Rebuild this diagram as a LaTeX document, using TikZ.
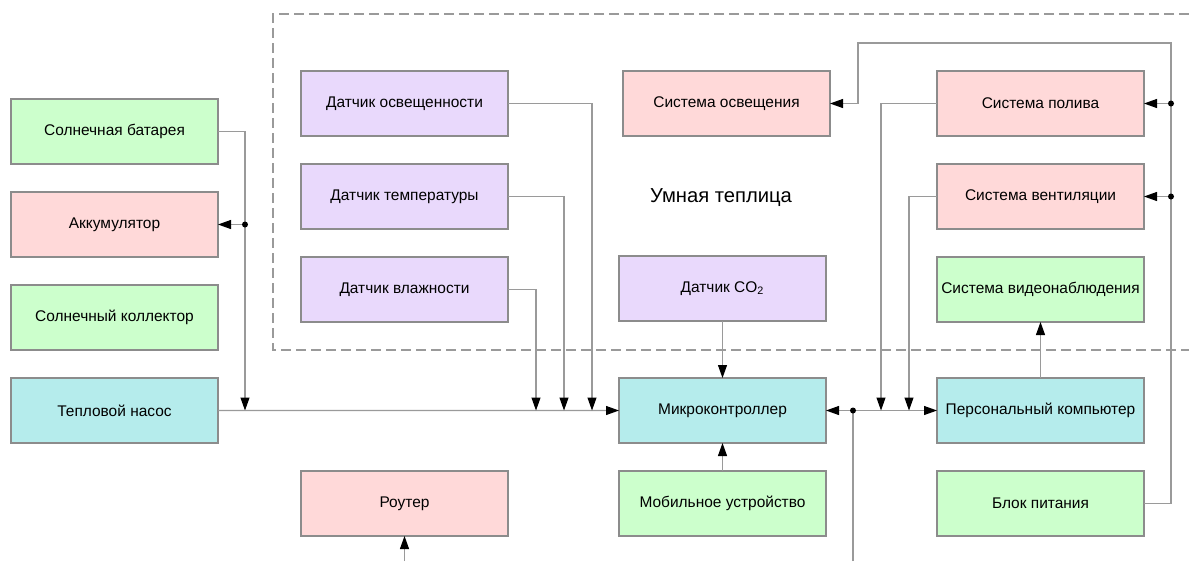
\documentclass[tikz,border=0pt]{standalone}
\usepackage{fontspec}
\setmainfont{Liberation Sans}
\usetikzlibrary{positioning,calc,arrows.meta}

\definecolor{boxgreen}{HTML}{CCFFCC}
\definecolor{boxpink}{HTML}{FFD9D9}
\definecolor{boxviolet}{HTML}{E9D9FC}
\definecolor{boxcyan}{HTML}{B5ECEC}
\definecolor{edgegray}{HTML}{8C8C8C}
\definecolor{wiregray}{HTML}{9A9A9A}

\begin{document}
\begin{tikzpicture}
   [unit/.style={rectangle,draw=edgegray,line width=0.6pt,minimum width=4.14cm,
     minimum height=1.3cm,inner sep=0pt,outer sep=0pt,font=\fontsize{8.8}{11}\selectfont},
    green/.style={unit,fill=boxgreen},
    pink/.style={unit,fill=boxpink},
    violet/.style={unit,fill=boxviolet},
    cyan/.style={unit,fill=boxcyan},
    wire/.style={draw=wiregray,line width=0.6pt},
    arr/.style={wire,-{Triangle[color=black,length=0.26cm,width=0.18cm]}},
    junction/.style={circle,fill=black,inner sep=0pt,minimum size=0.12cm},
    node distance=0.56cm]

\useasboundingbox (0,0) rectangle (23.78,-11.22);

% greenhouse frame
\draw [wiregray,line width=0.6pt,dash pattern=on 0.2cm off 0.1cm]
  (23.78,-0.28) -- (5.46,-0.28) -- (5.46,-7.0) -- (23.78,-7.0);
\node [font=\fontsize{11.5}{13}\selectfont] (title) at (14.42,-3.96) {Умная теплица};

% energy
\node [green] (solar) at (2.29,-2.63) {Солнечная батарея};
\node [pink, below=of solar] (accum) {Аккумулятор};
\node [green, below=of accum] (collector) {Солнечный коллектор};
\node [cyan, below=of collector] (heatpump) {Тепловой насос};

% sensors
\node [violet] (lightsens) at (8.09,-2.07) {Датчик освещенности};
\node [violet, below=of lightsens] (tempsens) {Датчик температуры};
\node [violet, below=of tempsens] (humsens) {Датчик влажности};
\node [pink] (router) at (8.09,-10.07) {Роутер};

% control
\node [pink] (lighting) at (14.53,-2.07) {Система освещения};
\node [violet] (co2) at (14.45,-5.77) {Датчик CO\textsubscript{2}};
\node [cyan] (mcu) at (14.45,-8.21) {Микроконтроллер};
\node [green, below=of mcu] (mobile) {Мобильное устройство};

% actuators
\node [pink] (watering) at (20.81,-2.07) {Система полива};
\node [pink, below=of watering] (vent) {Система вентиляции};
\node [green, below=of vent] (video) {Система видеонаблюдения};
\node [cyan] (pc) at (20.81,-8.21) {Персональный компьютер};
\node [green, below=of pc] (power) {Блок питания};

\coordinate (jsolar) at ([xshift=0.54cm]heatpump.east);
\coordinate (bus) at ([xshift=0.54cm]mcu.east);
\coordinate (pw) at ([xshift=0.54cm]power.east);
\coordinate (lt) at ([xshift=0.56cm]lighting.east);
\coordinate (top) at (0,-0.86);
\coordinate (bottom) at (0,-11.22);

\draw [arr] (solar.east) -| (jsolar);
\draw [arr] (jsolar |- accum.east) -- (accum.east);
\node [junction] (dacc) at (jsolar |- accum.east) {};
\draw [arr] (heatpump.east) -- (mcu.west);
\draw [arr] (lightsens.east) -| ([xshift=-0.54cm]mcu.west);
\draw [arr] (tempsens.east) -| ([xshift=-1.10cm]mcu.west);
\draw [arr] (humsens.east) -| ([xshift=-1.66cm]mcu.west);
\draw [arr] (co2) -- (mcu);
\draw [arr] (mobile) -- (mcu);
\draw [arr] (router.south |- bottom) -- (router.south);

\draw [wire] (bus |- bottom) -- (bus);
\draw [arr] (bus) -- (mcu.east);
\draw [arr] (bus) -- (pc.west);
\node [junction] (dbus) at (bus) {};
\draw [arr] (watering.west) -| ([xshift=-1.12cm]pc.west);
\draw [arr] (vent.west) -| ([xshift=-0.56cm]pc.west);
\draw [arr] (pc) -- (video);

\draw [arr] (power.east) -- (pw) -- (pw |- top) -| (lt) -- (lighting.east);
\draw [arr] (pw |- watering.east) -- (watering.east);
\draw [arr] (pw |- vent.east) -- (vent.east);
\node [junction] (dwat) at (pw |- watering.east) {};
\node [junction] (dvent) at (pw |- vent.east) {};
\end{tikzpicture}
\end{document}
